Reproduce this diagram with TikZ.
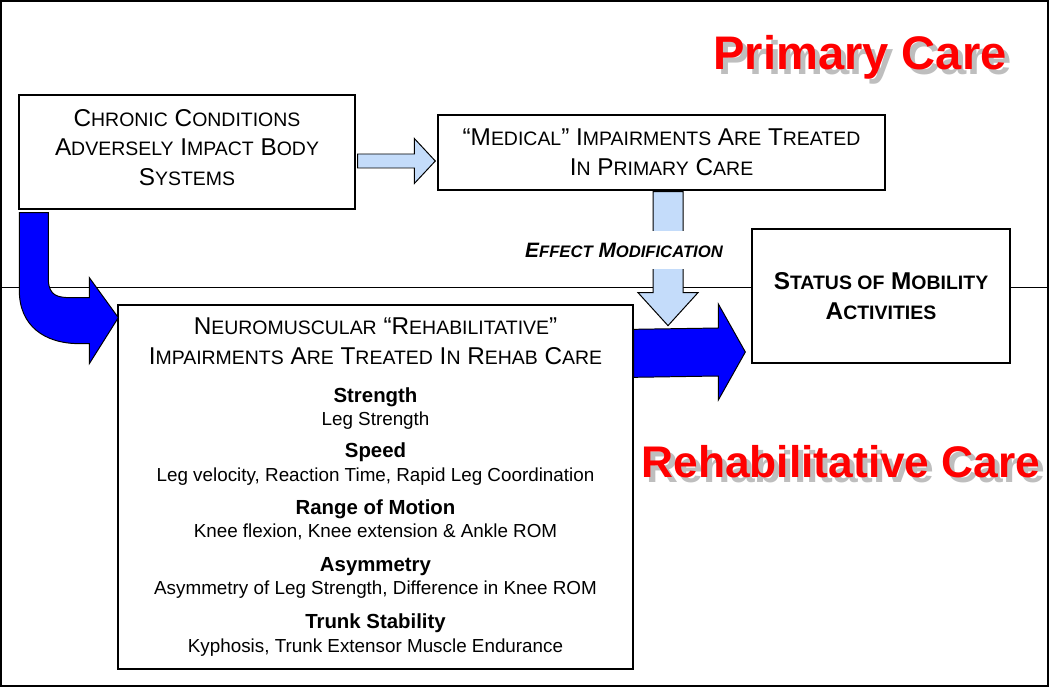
\documentclass[tikz,border=0pt]{standalone}
\usepackage{fontspec}
\setmainfont{Liberation Sans}
\usetikzlibrary{calc}
\definecolor{paleblue}{RGB}{196,220,250}
\definecolor{deepblue}{RGB}{0,0,255}
\definecolor{titlered}{RGB}{255,0,0}
\definecolor{shadowgray}{RGB}{190,190,190}
\makeatletter
\newcommand\lc[1]{{\fontsize{\strip@pt\dimexpr.8\dimexpr\f@size pt\relax\relax}{\f@baselineskip}\selectfont#1}}
\makeatother
\newcommand\hdfont{\fontsize{17.3}{21}\selectfont}
\newcommand\itemfont{\fontsize{13.4}{16.4}\selectfont}
\newcommand\subfont{\fontsize{14.5}{16.4}\selectfont\bfseries}
\newcommand\rightblock[6]{\draw[#1] ($(#2)+(0,-#4)$) -- ($(#3)+(-#6,-#4)$) -- ($(#3)+(-#6,-#5)$) -- (#3) -- ($(#3)+(-#6,#5)$) -- ($(#3)+(-#6,#4)$) -- ($(#2)+(0,#4)$) -- cycle;}
\newcommand\downblock[6]{\draw[#1] ($(#2)+(-#4,0)$) -- ($(#3)+(-#4,-#6)$) -- ($(#3)+(-#5,-#6)$) -- (#3) -- ($(#3)+(#5,-#6)$) -- ($(#3)+(#4,-#6)$) -- ($(#2)+(#4,0)$) -- cycle;}
\begin{document}
\begin{tikzpicture}[x=0.025cm,y=-0.025cm,
  box/.style={draw,line width=0.9pt,fill=white,inner sep=0pt,align=center},
  lightarrow/.style={draw,line width=0.7pt,fill=paleblue},
  bigarrow/.style={draw,line width=0.7pt,fill=deepblue},
  title/.style={anchor=base,font=\bfseries\fontsize{#1}{#1}\selectfont,text=titlered},
  titleshadow/.style={anchor=base,font=\bfseries\fontsize{#1}{#1}\selectfont,text=shadowgray}]
  \useasboundingbox (0,0) rectangle (1050,688);
  \draw [line width=1pt] (1,1) rectangle (1048,686);
  \draw [line width=0.6pt] (1,287) -- (1048,287);
  \node (chronic) [box,minimum width=8.4cm,minimum height=2.85cm,font=\hdfont] at (187,152)
    {C\lc{HRONIC} C\lc{ONDITIONS}\\A\lc{DVERSELY} I\lc{MPACT} B\lc{ODY}\\S\lc{YSTEMS}\rule[-6.4pt]{0pt}{6.4pt}};
  \node (medical) [box,minimum width=11.175cm,minimum height=1.875cm,font=\hdfont] at (661.5,152.5)
    {“M\lc{EDICAL}” I\lc{MPAIRMENTS} A\lc{RE} T\lc{REATED}\\I\lc{N} P\lc{RIMARY} C\lc{ARE}};
  \node (status) [box,minimum width=6.45cm,minimum height=3.35cm,font=\hdfont\bfseries] at (881,296)
    {S\lc{TATUS OF} M\lc{OBILITY}\\A\lc{CTIVITIES}};
  \node (rehab) [box,minimum width=12.875cm,minimum height=9.1cm,font=\itemfont] at (375.5,487) {
    {\hdfont N\lc{EUROMUSCULAR} “R\lc{EHABILITATIVE}”}\\[4.9pt]
    {\hdfont I\lc{MPAIRMENTS} A\lc{RE} T\lc{REATED} I\lc{N} R\lc{EHAB} C\lc{ARE}}\\[10.6pt]
    {\subfont Strength}\\
    Leg Strength\\[6.4pt]
    {\subfont Speed}\\[0.7pt]
    Leg velocity, Reaction Time, Rapid Leg Coordination\\[7.1pt]
    {\subfont Range of Motion}\\
    Knee flexion, Knee extension \& Ankle ROM\\[7.8pt]
    {\subfont Asymmetry}\\
    Asymmetry of Leg Strength, Difference in Knee ROM\\[7.8pt]
    {\subfont Trunk Stability}\\[0.7pt]
    Kyphosis, Trunk Extensor Muscle Endurance};
  \coordinate (l1) at ($(chronic.east)+(2,9)$);
  \coordinate (l2) at ($(medical.west)+(-2,8.5)$);
  \rightblock{lightarrow}{l1}{l2}{7}{22.5}{21}
  \coordinate (d1) at ($(medical.south)+(6.5,1)$);
  \coordinate (d2) at ($(d1)+(0,134)$);
  \downblock{lightarrow}{d1}{d2}{15}{30}{33}
  \coordinate (b1) at ($(rehab.north east)+(0,49)$);
  \coordinate (b2) at ($(status.west)+(-6,56)$);
  \rightblock{bigarrow}{b1}{b2}{24}{48}{27}
  \draw [bigarrow,shift={(chronic.south west)}] (1,3) -- (30,3) -- (30,71)
    .. controls (31,86) and (39,88) .. (53,88) -- (71,88) -- (71,68) -- (100,108)
    -- (71,154) -- (71,134) -- (61,134) .. controls (26,134) and (1,116) .. (1,81) -- cycle;
  \node (effect) [fill=white,inner xsep=2pt,inner ysep=8.5pt,font=\fontsize{14.8}{18}\selectfont\bfseries\itshape] at (624,250)
    {E\lc{FFECT} M\lc{ODIFICATION}};
  \node (primaryshadow) [titleshadow=33.5] at (865,75) {Primary Care};
  \node (primary) [title=33.5] at (860,70) {Primary Care};
  \node (rehabshadow) [titleshadow=31.5] at (846,482) {Rehabilitative Care};
  \node (rehabtitle) [title=31.5] at (841,477) {Rehabilitative Care};
\end{tikzpicture}
\end{document}
